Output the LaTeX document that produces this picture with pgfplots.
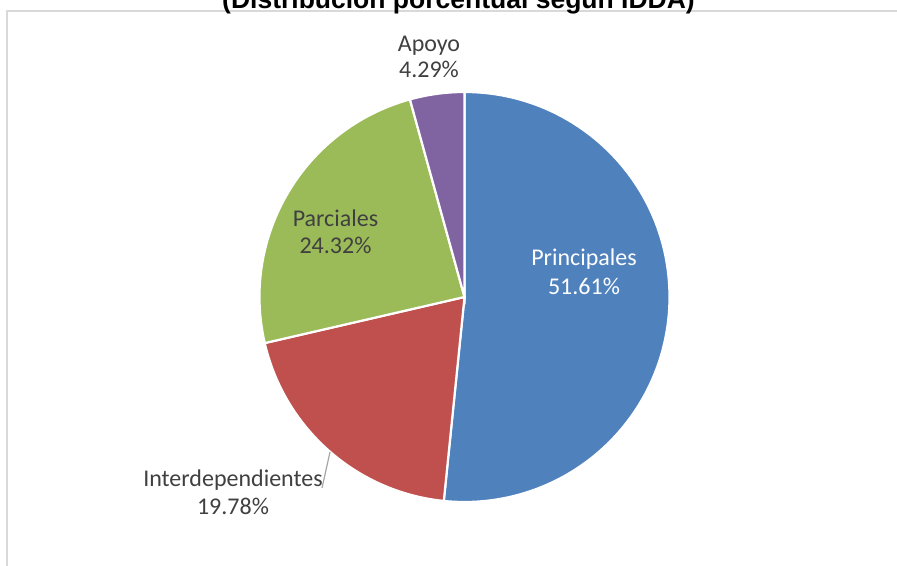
\documentclass[border=0pt]{standalone}
\usepackage{pgfplots}
\pgfplotsset{compat=1.18}
\usepackage{fontspec}
\setmainfont{Carlito}
\newfontfamily\titlefont{Liberation Sans}
\definecolor{cblue}{HTML}{4F81BD}
\definecolor{cred}{HTML}{C0504D}
\definecolor{cgreen}{HTML}{9BBB59}
\definecolor{cpurple}{HTML}{8064A2}
\definecolor{ctext}{HTML}{404040}
\definecolor{cframe}{HTML}{D9D9D9}
\definecolor{clead}{HTML}{A6A6A6}
% data (percent)
\def\vPrin{51.61}
\def\vInter{19.78}
\def\vParc{24.32}
\def\vApoyo{4.29}
\begin{document}
\begin{tikzpicture}
\useasboundingbox (0,0) rectangle (897bp,566bp);
\clip (0,0) rectangle (897bp,566bp);
\pgfmathsetmacro\aA{90}
\pgfmathsetmacro\aB{\aA-3.6*\vPrin}
\pgfmathsetmacro\aC{\aB-3.6*\vInter}
\pgfmathsetmacro\aD{\aC-3.6*\vParc}
\pgfmathsetmacro\aE{\aD-3.6*\vApoyo}
\begin{axis}[at={(0,0)}, anchor=south west,
  width=897bp, height=566bp, scale only axis,
  xmin=0, xmax=897, ymin=0, ymax=566, hide axis, clip=false]
\draw[cframe, line width=1.5bp] (axis cs:7,-10) -- (axis cs:7,555) -- (axis cs:910,555);
\node[font=\titlefont\bfseries\fontsize{26.5bp}{30bp}\selectfont, anchor=base] at (axis cs:458.5,557) {(Distribución porcentual según IDDA)};
\def\R{205bp}
\filldraw[fill=cblue, draw=white, line width=2.2bp] (axis cs:464.5,269) -- ++(\aA:\R) arc[start angle=\aA, end angle=\aB, radius=\R] -- cycle;
\filldraw[fill=cred, draw=white, line width=2.2bp] (axis cs:464.5,269) -- ++(\aB:\R) arc[start angle=\aB, end angle=\aC, radius=\R] -- cycle;
\filldraw[fill=cgreen, draw=white, line width=2.2bp] (axis cs:464.5,269) -- ++(\aC:\R) arc[start angle=\aC, end angle=\aD, radius=\R] -- cycle;
\filldraw[fill=cpurple, draw=white, line width=2.2bp] (axis cs:464.5,269) -- ++(\aD:\R) arc[start angle=\aD, end angle=\aE, radius=\R] -- cycle;
\draw[clead, line width=1.2bp] (axis cs:330,114) -- (axis cs:322,78);
\tikzset{lab/.style={anchor=base, inner sep=0pt, font=\fontsize{24bp}{28bp}\selectfont}}
\node[lab, text=white] at (axis cs:584,300) {Principales};
\node[lab, text=white] at (axis cs:584,271) {\vPrin\%};
\node[lab, text=ctext] at (axis cs:335.5,339) {Parciales};
\node[lab, text=ctext] at (axis cs:335.5,312) {\vParc\%};
\node[lab, text=ctext] at (axis cs:429,514) {Apoyo};
\node[lab, text=ctext] at (axis cs:429,488) {\vApoyo\%};
\node[lab, text=ctext] at (axis cs:233,79) {Interdependientes};
\node[lab, text=ctext] at (axis cs:233,51) {\vInter\%};
\end{axis}
\end{tikzpicture}
\end{document}
